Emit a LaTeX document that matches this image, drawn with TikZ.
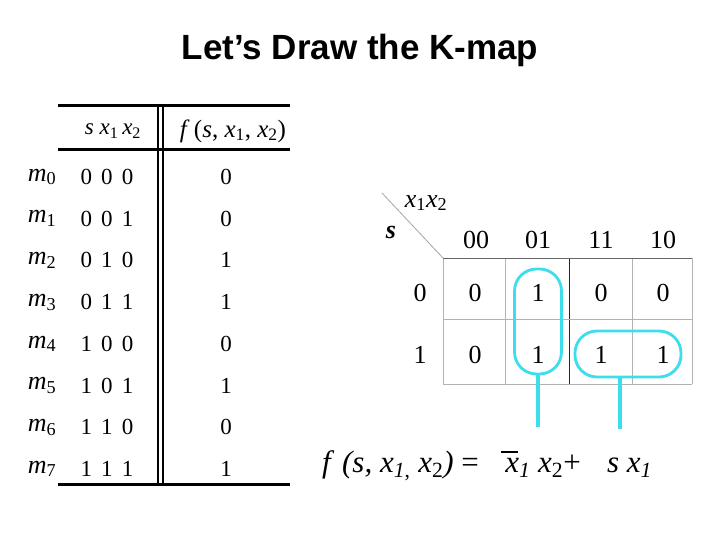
\documentclass[tikz,border=0pt]{standalone}
\usepackage{fontspec}
\setmainfont{Liberation Serif}
\newfontfamily\titlefont{Liberation Sans}
\usepackage{xcolor}
\usetikzlibrary{positioning, calc}
\definecolor{loopcyan}{RGB}{60,222,238}

\begin{document}
\begin{tikzpicture}[
        x=1pt, y=-1pt,
        title/.style={font=\titlefont\bfseries\fontsize{35}{40}\selectfont},
        tabtext/.style={font=\fontsize{23}{26}\selectfont, inner sep=0pt},
        minterm/.style={font=\fontsize{26}{30}\selectfont, inner sep=0pt},
        rule/.style={line width=3pt},
        gridline/.style={draw=gray!60, line width=0.8pt},
        cell/.style={font=\fontsize{26}{30}\selectfont, inner sep=0pt},
        maplabel/.style={font=\fontsize{26}{30}\selectfont, inner sep=0pt},
        group/.style={draw=loopcyan, line width=2.8pt, rounded corners=22pt, inner sep=0pt},
        stem/.style={draw=loopcyan, line width=4pt},
    ]
        \useasboundingbox[fill=white] (0,0) rectangle (720,540);

        \node[title] (heading) at (360,50) {Let’s Draw the K-map};

        % truth table
        \draw[rule] (58,106) -- (290,106);
        \draw[rule] (58,150) -- (290,150);
        \draw[rule] (58,484) -- (290,484);
        \draw[line width=2pt] (158,106) -- (158,486);
        \draw[line width=2pt] (163,106) -- (163,486);

        \node[tabtext] (hin) at (113,131) {\textit{s x}\textsubscript{1}\,\textit{x}\textsubscript{2}};
        \node[tabtext, font=\fontsize{25}{28}\selectfont] (hf) at (233,131)
            {\textit{f}\,(\textit{s}, \textit{x}\textsubscript{1}, \textit{x}\textsubscript{2})};

        \foreach \i/\a/\b/\c/\f in {0/0/0/0/0, 1/0/0/1/0, 2/0/1/0/1, 3/0/1/1/1,
                                    4/1/0/0/0, 5/1/0/1/1, 6/1/1/0/0, 7/1/1/1/1}
        {
            \node[minterm] (m\i) at (42,177+41.7*\i) {\textit{m}\textsubscript{\i}};
            \node[tabtext] (in\i) at (107,177+41.7*\i) {\a\hspace{0.4em}\b\hspace{0.4em}\c};
            \node[tabtext] (f\i) at (226,177+41.7*\i) {\f};
        }

        % K-map grid
        \coordinate (corner) at (443,258);
        \coordinate (slash) at (382,193);
        \draw[gray!70, line width=0.8pt] (slash) -- (corner);
        \foreach \x in {443,505,632,692}
            \draw[gridline] (\x,258) -- (\x,384);
        \draw[black!85, line width=0.9pt] (569,258) -- (569,384);
        \draw[gridline] (443,319) -- (692,319);
        \draw[gridline] (443,384) -- (692,384);
        \draw[black!60, line width=0.9pt] (443,258) -- (692,258);

        \node[maplabel] (vars) at (426,203) {\textit{x}\textsubscript{1}\textit{x}\textsubscript{2}};
        \node[maplabel] (svar) at (391,233) {\textbf{\textit{s}}};

        \foreach \c/\x in {00/476, 01/538, 11/601, 10/663}
            \node[maplabel] (col\c) at (\x,240) {\c};
        \foreach \r/\y in {0/293, 1/355}
            \node[maplabel] (row\r) at (420,\y) {\r};

        \foreach \r/\y/\a/\b/\c/\d in {0/293/0/1/0/0, 1/355/0/1/1/1}
        {
            \node[cell] (c\r a) at (475,\y) {\a};
            \node[cell] (c\r b) at (538,\y) {\b};
            \node[cell] (c\r c) at (601,\y) {\c};
            \node[cell] (c\r d) at (663,\y) {\d};
        }

        % groups
        \node[group, minimum width=47pt, minimum height=105pt] (grpA) at (538,321.5) {};
        \node[group, minimum width=106pt, minimum height=46pt] (grpB) at (628,354) {};
        \coordinate[below=52pt of grpA.south] (endA);
        \coordinate (endB) at (620,429);
        \draw[stem] (grpA.south) -- (endA);
        \draw[stem] (grpB.south -| endB) -- (endB);

        % expression
        \node[font=\fontsize{31}{35}\selectfont, inner sep=0pt, anchor=base west] (expr) at (322,472)
            {\textit{f}\ \textit{(s, x}\textsubscript{\textit{1},} \textit{x}\textsubscript{2}\textit{)} =\hspace{0.85em}%
             \textit{x}\llap{\rule[0.62em]{0.55em}{2pt}\hspace{0.03em}}\textsubscript{\textit{1}} \textit{x}\textsubscript{2}+\hspace{0.85em}%
             \textit{s x}\textsubscript{\textit{1}}};
    \end{tikzpicture}
\end{document}
